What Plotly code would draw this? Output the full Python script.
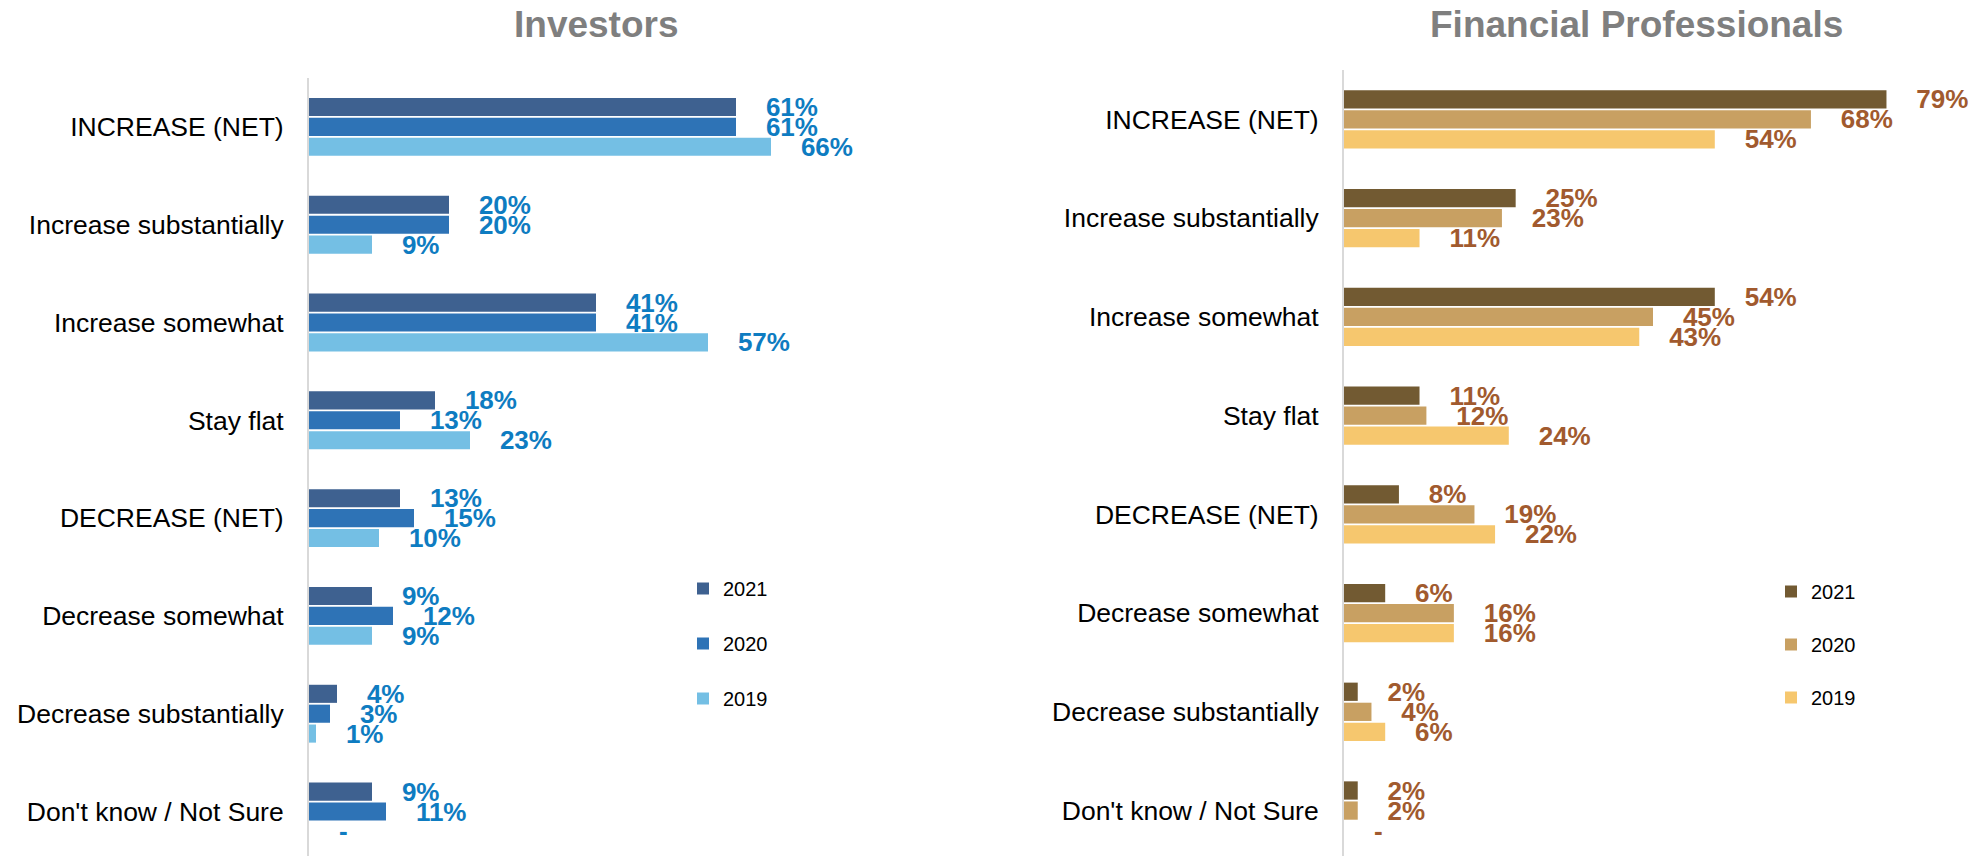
import plotly.graph_objects as go

# Survey answers (top to bottom)
categories = [
    "INCREASE (NET)",
    "Increase substantially",
    "Increase somewhat",
    "Stay flat",
    "DECREASE (NET)",
    "Decrease somewhat",
    "Decrease substantially",
    "Don't know / Not Sure",
]
years = ["2021", "2020", "2019"]

# Investors, % of respondents (None = not asked that year)
investors_2021 = [61, 20, 41, 18, 13, 9, 4, 9]
investors_2020 = [61, 20, 41, 13, 15, 12, 3, 11]
investors_2019 = [66, 9, 57, 23, 10, 9, 1, None]

# Financial professionals, % of respondents
pros_2021 = [79, 25, 54, 11, 8, 6, 2, 2]
pros_2020 = [68, 23, 45, 12, 19, 16, 4, 2]
pros_2019 = [54, 11, 43, 24, 22, 16, 6, None]

investor_colors = ["#3E6190", "#2E73B6", "#74BFE4"]
pro_colors = ["#725A32", "#C8A062", "#F6C76E"]
investor_label_color = "#0E7CC1"
pro_label_color = "#A15A2E"

FONT = "Arial, Liberation Sans, sans-serif"
W, H = 1978, 856
PAD = "\u00a0\u00a0\u00a0\u2009"


def bar_trace(values, name, color, label_color, xaxis, yaxis, legend):
    xs = [v if v is not None else 0 for v in values]
    labels = [PAD + (f"{v}%" if v is not None else "-") for v in values]
    return go.Bar(
        x=xs,
        y=categories,
        orientation="h",
        name=name,
        legendgroup=f"{legend}-{name}",
        marker=dict(color=color, line=dict(width=0)),
        text=labels,
        textposition="outside",
        textfont=dict(family=FONT, size=26, color=label_color, weight="bold"),
        constraintext="none",
        cliponaxis=False,
        hoverinfo="skip",
        xaxis=xaxis,
        yaxis=yaxis,
        legend=legend,
    )


fig = go.Figure()
for vals, yr, col in zip([investors_2021, investors_2020, investors_2019], years, investor_colors):
    fig.add_trace(bar_trace(vals, yr, col, investor_label_color, "x", "y", "legend"))
for vals, yr, col in zip([pros_2021, pros_2020, pros_2019], years, pro_colors):
    fig.add_trace(bar_trace(vals, yr, col, pro_label_color, "x2", "y2", "legend2"))

axis_common_y = dict(
    type="category",
    showline=True,
    linecolor="#D9D9D9",
    linewidth=2,
    showgrid=False,
    ticks="",
    ticklabelstandoff=18,
    tickfont=dict(family=FONT, size=26.5, color="#000000"),
)
axis_common_x = dict(visible=False, showgrid=False, zeroline=False, fixedrange=True)

legend_common = dict(
    font=dict(family=FONT, size=20, color="#000000"),
    bgcolor="rgba(0,0,0,0)",
    traceorder="grouped",
    yanchor="top",
    xanchor="left",
)

fig.update_layout(
    width=W,
    height=H,
    margin=dict(l=0, r=0, t=0, b=0),
    paper_bgcolor="white",
    plot_bgcolor="white",
    barmode="group",
    bargap=0.39,
    bargroupgap=0.09,
    xaxis=dict(domain=[309 / W, 974 / W], range=[0, 95], **axis_common_x),
    yaxis=dict(domain=[0, 1 - 78 / H], anchor="x", range=[7.455, -0.5], **axis_common_y),
    xaxis2=dict(domain=[1344 / W, 1962 / W], range=[0, 90], anchor="y2", **axis_common_x),
    yaxis2=dict(domain=[0, 1 - 70 / H], anchor="x2", range=[7.46, -0.5], **axis_common_y),
    legend=dict(x=683 / W, y=1 - 569 / H, tracegroupgap=26, **legend_common),
    legend2=dict(x=1771 / W, y=1 - 572 / H, tracegroupgap=24, **legend_common),
    showlegend=True,
    annotations=[
        dict(text="<b>Investors</b>", x=596 / W, y=1 - 24 / H, xref="paper", yref="paper",
             xanchor="center", yanchor="middle", showarrow=False,
             font=dict(family=FONT, size=37, color="#7F7F7F")),
        dict(text="<b>Financial Professionals</b>", x=1636 / W, y=1 - 24 / H, xref="paper", yref="paper",
             xanchor="center", yanchor="middle", showarrow=False,
             font=dict(family=FONT, size=37, color="#7F7F7F")),
    ],
)

fig.write_html("out.html")
